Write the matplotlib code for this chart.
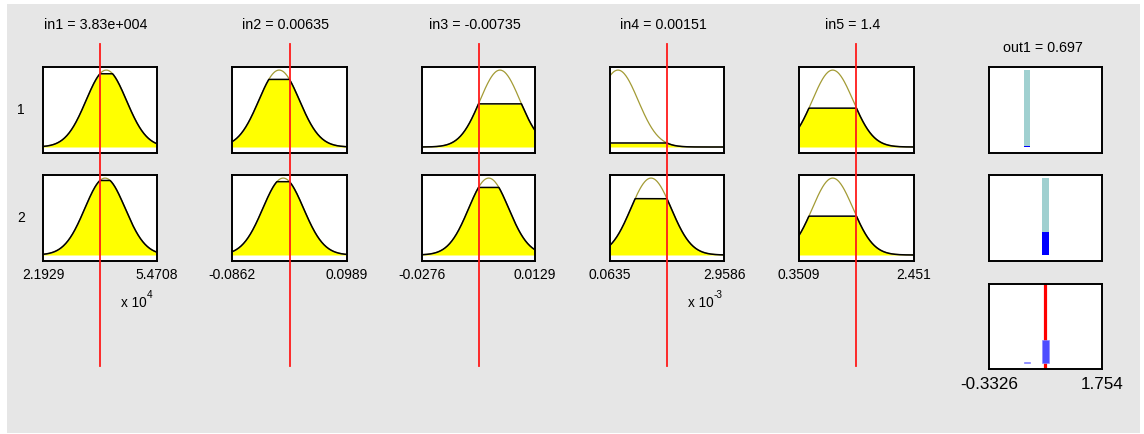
import numpy as np
import matplotlib
matplotlib.use("Agg")
import matplotlib.pyplot as plt
from matplotlib.patches import Rectangle
from matplotlib.lines import Line2D
from matplotlib.transforms import blended_transform_factory, offset_copy

plt.rcParams["font.family"] = ["Liberation Sans", "DejaVu Sans"]

W, H = 1144, 434

# ---- fuzzy system description -------------------------------------------
input_titles = ["in1 = 3.83e+004", "in2 = 0.00635", "in3 = -0.00735",
                "in4 = 0.00151", "in5 = 1.4"]
input_values = [3.83e4, 0.00635, -0.00735, 0.00151, 1.4]
input_lo = [21929.0, -0.0862, -0.0276, 0.0635e-3, 0.3509]
input_hi = [54708.0, 0.0989, 0.0129, 2.9586e-3, 2.451]
tick_text_lo = ["2.1929", "-0.0862", "-0.0276", "0.0635", "0.3509"]
tick_text_hi = ["5.4708", "0.0989", "0.0129", "2.9586", "2.451"]
exponent_text = ["4", None, None, "-3", None]

# Gaussian membership functions: centre for each rule, shared sigma per input
mf_center_rule1 = [40121.0, -0.0103, 0.00035, 0.266e-3, 0.966]
mf_center_rule2 = [39761.0, -0.0038, -0.0037, 1.106e-3, 0.966]
mf_sigma = [5795.0, 0.03273, 0.00716, 0.512e-3, 0.3713]

output_title = "out1 = 0.697"
output_value = 0.697
output_lo, output_hi = -0.3326, 1.754
output_tick_lo, output_tick_hi = "-0.3326", "1.754"
rule_outputs = [0.37, 0.71]
rule_labels = ["1", "2"]

# ---- layout helpers --------------------------------------------------------
fig = plt.figure(figsize=(W / 100, H / 100), dpi=100)
fig.patch.set_facecolor("white")
fig.add_artist(Rectangle((7 / W, 1 - 433 / H), (1140 - 7) / W, (433 - 4) / H,
                         transform=fig.transFigure, facecolor="#e6e6e6",
                         edgecolor="none", zorder=-10))


def px_axes(left, top, right, bottom):
    ax = fig.add_axes([left / W, 1 - bottom / H, (right - left) / W,
                       (bottom - top) / H])
    ax.set_facecolor("white")
    for sp in ax.spines.values():
        sp.set_linewidth(1.4)
        sp.set_color("black")
    ax.set_xticks([])
    ax.set_yticks([])
    ax.set_ylim(-0.078, 1.04)
    return ax


col_x = [(43, 157), (232, 347), (422, 535), (610, 724), (799, 914)]
out_x = (989, 1102)
row_y = [(67, 153), (175, 261)]
agg_y = (284, 369)

centers = [mf_center_rule1, mf_center_rule2]


def gauss(x, c, s):
    return np.exp(-(x - c) ** 2 / (2 * s ** 2))


def title_transform(ax, dx_px):
    base = blended_transform_factory(ax.transAxes, fig.transFigure)
    return offset_copy(base, fig=fig, x=dx_px * 72 / 100, units="points")


firing = [1.0, 1.0]
for j in range(5):
    lo, hi = input_lo[j], input_hi[j]
    v = input_values[j]
    xs = np.linspace(lo, hi, 201)
    col_axes = []
    for r in range(2):
        ax = px_axes(col_x[j][0], row_y[r][0], col_x[j][1], row_y[r][1])
        c = centers[r][j]
        s = mf_sigma[j]
        mf = gauss(xs, c, s)
        deg = gauss(v, c, s)
        firing[r] *= deg
        clipped = np.minimum(mf, deg)
        ax.plot(xs, mf, color="#a39b35", lw=0.9)
        ax.fill_between(xs, 0, clipped, color="#ffff00", lw=0)
        ax.plot(xs, clipped, color="black", lw=1.1)
        ax.set_xlim(lo, hi)
        col_axes.append(ax)
    top_ax, bot_ax = col_axes
    bot_ax.set_xticks([lo, hi])
    bot_ax.set_xticklabels([tick_text_lo[j], tick_text_hi[j]], fontsize=10)
    bot_ax.tick_params(axis="x", length=0, pad=5)
    # title
    top_ax.text(0.5, 1 - 25 / H, input_titles[j], transform=title_transform(top_ax, -4),
                ha="center", va="center", fontsize=10.3)
    # exponent under the tick labels
    if exponent_text[j] is not None:
        tr = blended_transform_factory(bot_ax.transAxes, fig.transFigure)
        bot_ax.text(0.91, 1 - 303 / H, "x 10", transform=tr, ha="right",
                    va="center", fontsize=9.8)
        bot_ax.text(0.91, 1 - 295 / H, exponent_text[j], transform=tr,
                    ha="left", va="center", fontsize=7.2)
    # input value marker spanning the column
    tr = blended_transform_factory(top_ax.transData, fig.transFigure)
    fig.add_artist(Line2D([v, v], [1 - 44 / H, 1 - 366 / H], transform=tr,
                          color="#ff1a1a", lw=1.3, zorder=5))

# rule numbers
for r in range(2):
    fig.text(21 / W, 1 - (row_y[r][0] + row_y[r][1]) / 2 / H, rule_labels[r],
             ha="center", va="center", fontsize=10)

# ---- output column -----------------------------------------------------------
bar_w = 0.125
out_axes = []
for r in range(2):
    ax = px_axes(out_x[0], row_y[r][0], out_x[1], row_y[r][1])
    ax.set_xlim(output_lo, output_hi)
    ax.bar(rule_outputs[r], 1.0, width=bar_w, bottom=0, color="#a0d0d0", lw=0)
    ax.bar(rule_outputs[r], firing[r], width=bar_w, bottom=0, color="#0000ff", lw=0)
    out_axes.append(ax)

out_axes[0].text(0.5, 1 - 48 / H, output_title,
                 transform=title_transform(out_axes[0], -3),
                 ha="center", va="center", fontsize=10.3)

agg = px_axes(out_x[0], agg_y[0], out_x[1], agg_y[1])
agg.set_xlim(output_lo, output_hi)
agg.axvline(output_value, color="#ff0000", lw=2.3, zorder=2)
for r in range(2):
    agg.bar(rule_outputs[r], max(firing[r], 0.015), width=bar_w, bottom=0,
            color="#4d4dff", edgecolor="#8c8cff", lw=0.5, zorder=3)
agg.set_xticks([output_lo, output_hi])
agg.set_xticklabels([output_tick_lo, output_tick_hi], fontsize=12.3)
agg.tick_params(axis="x", length=0, pad=6)

fig.savefig("out.png", dpi=100)
